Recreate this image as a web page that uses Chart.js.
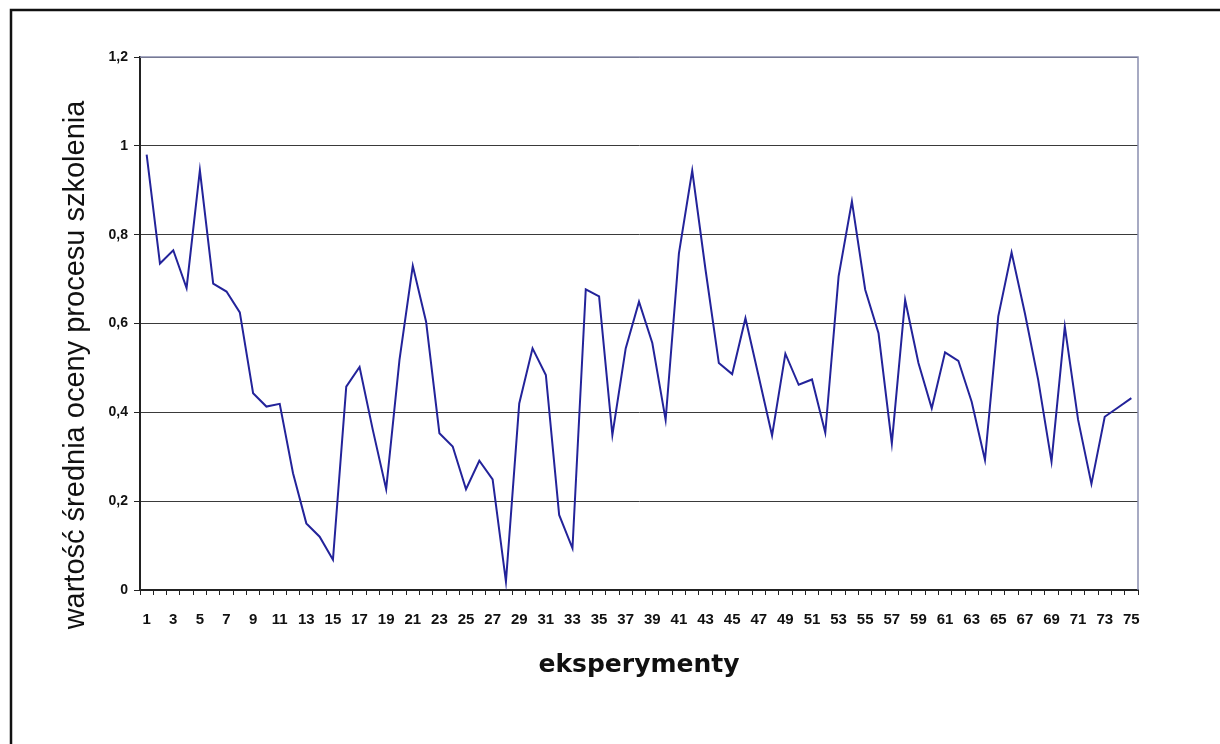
<!DOCTYPE html>
<html>
<head>
<meta charset="utf-8">
<script src="https://cdn.jsdelivr.net/npm/chart.js@4.4.1/dist/chart.umd.min.js"></script>
<style>
  html, body { margin: 0; padding: 0; background: #fff; }
  #wrap { width: 1220px; height: 744px; position: relative; }
</style>
</head>
<body>
<div id="wrap"><canvas id="chart_szkolenie"></canvas></div>
<script>
// experiments 1..75
var experiments = [];
for (var i = 1; i <= 75; i++) experiments.push(String(i));

// mean training evaluation
var meanScore = [
  0.98, 0.735, 0.765, 0.68, 0.945, 0.69, 0.672, 0.625, 0.443, 0.413,
  0.419, 0.263, 0.15, 0.12, 0.068, 0.458, 0.502, 0.36, 0.227, 0.518,
  0.73, 0.604, 0.353, 0.323, 0.227, 0.291, 0.249, 0.019, 0.42, 0.544,
  0.484, 0.169, 0.094, 0.677, 0.661, 0.349, 0.544, 0.649, 0.556, 0.383,
  0.758, 0.944, 0.721, 0.511, 0.486, 0.612, 0.48, 0.348, 0.532, 0.462,
  0.474, 0.354, 0.706, 0.875, 0.676, 0.578, 0.33, 0.653, 0.511, 0.409,
  0.535, 0.516, 0.424, 0.293, 0.616, 0.76, 0.623, 0.473, 0.289, 0.593,
  0.383, 0.239, 0.39, 0.411, 0.432
];

var yTickLabels = ['0', '0,2', '0,4', '0,6', '0,8', '1', '1,2'];

var yTitle = 'wartość średnia oceny procesu szkolenia';
var xTitle = 'eksperymenty';

var chart_szkolenie = new Chart(document.getElementById('chart_szkolenie'), {
    type: 'line',
    data: {
        labels: experiments,
        datasets: [
            {
                label: 'ocena',
                data: meanScore,
                borderColor: '#23239a',
                borderWidth: 2,
                pointRadius: 0,
                tension: 0,
                fill: false
            }
        ]
    },
    options: {
        animation: false,
        responsive: true,
        maintainAspectRatio: false,
        layout: {
            padding: { top: 57, right: 82, bottom: 64, left: 0 }
        },
        plugins: {
            legend: { display: false },
            tooltip: { enabled: false }
        },
        scales: {
            x: {
                offset: true,
                grid: {
                    display: true,
                    offset: true,
                    drawOnChartArea: false,
                    drawTicks: true,
                    tickLength: 5,
                    tickColor: '#222'
                },
                border: { display: true, color: '#222', width: 2 },
                ticks: {
                    autoSkip: false,
                    maxRotation: 0,
                    padding: 16,
                    color: '#111',
                    font: { family: '"Liberation Sans", Arial', size: 15, weight: 'bold' },
                    callback: function (value, index) {
                        return index % 2 === 0 ? experiments[index] : '';
                    }
                },
                title: {
                    display: true,
                    text: xTitle,
                    color: '#111',
                    font: { family: '"DejaVu Sans"', size: 25, weight: 'bold' },
                    padding: { top: 5, bottom: 0 }
                }
            },
            y: {
                min: 0,
                max: 1.2,
                grid: {
                    color: '#3a3a3a',
                    lineWidth: 1,
                    tickLength: 6,
                    tickColor: '#222'
                },
                border: { display: true, color: '#222', width: 2 },
                ticks: {
                    stepSize: 0.2,
                    padding: 6,
                    color: '#111',
                    font: { family: '"Liberation Sans", Arial', size: 14, weight: 'bold' },
                    callback: function (value, index) {
                        return yTickLabels[index];
                    }
                },
                afterFit: function (scale) {
                    scale.width = 140;
                }
            }
        }
    },
    plugins: [{
        id: 'scanFrame',
        beforeDraw: (chart) => {
            const ctx = chart.ctx;
            ctx.save();
            ctx.fillStyle = 'white';
            ctx.fillRect(0, 0, chart.width, chart.height);
            ctx.strokeStyle = '#111';
            ctx.lineWidth = 2.5;
            ctx.strokeRect(11, 10, 1400, 900);
            ctx.restore();
        },
        afterDraw: (chart) => {
            const ctx = chart.ctx;
            const a = chart.chartArea;
            ctx.save();
            // light frame on top and right of the plot
            ctx.strokeStyle = '#8a8fb0';
            ctx.lineWidth = 1.5;
            ctx.beginPath();
            ctx.moveTo(a.left, a.top);
            ctx.lineTo(a.right, a.top);
            ctx.lineTo(a.right, a.bottom);
            ctx.stroke();
            // rotated y title
            ctx.translate(84, 365);
            ctx.rotate(-Math.PI / 2);
            ctx.fillStyle = '#111';
            ctx.font = '29px "Liberation Sans", Arial';
            ctx.textAlign = 'center';
            ctx.textBaseline = 'alphabetic';
            ctx.fillText(yTitle, 0, 0);
            ctx.restore();
        }
    }]
});
</script>
</body>
</html>
